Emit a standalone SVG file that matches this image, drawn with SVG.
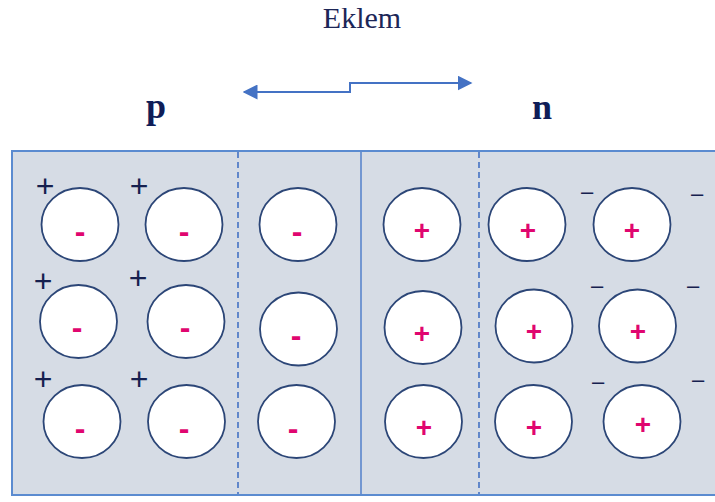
<svg xmlns="http://www.w3.org/2000/svg" width="715" height="502" viewBox="0 0 715 502">
  <style>
    .title { font-family: "Liberation Serif", "Times New Roman", serif; fill: #1c2657; }
    .region { font-family: "Liberation Serif", "Times New Roman", serif; font-weight: bold; fill: #0f1d58; font-size: 36px; text-anchor: middle; }
    .ion { fill: #ffffff; stroke: #2c4677; stroke-width: 1.8; }
    .ionsign { font-family: "Liberation Sans", Arial, sans-serif; font-weight: bold; fill: #e0066f; text-anchor: middle; }
    .carrier { font-family: "Liberation Sans", Arial, sans-serif; fill: #16204f; text-anchor: middle; }
    .divider { stroke: #4472c4; stroke-width: 1.6; stroke-dasharray: 6 4; fill: none; }
    .junction { stroke: #5a86cc; stroke-width: 1.6; fill: none; }
    .arrowline { stroke: #4472c4; stroke-width: 2; fill: none; }
  </style>
  <defs>
    <marker id="arrowhead" viewBox="0 0 10 10" refX="9" refY="5" markerWidth="7.5" markerHeight="7.5" markerUnits="strokeWidth" orient="auto-start-reverse">
      <path d="M0,0 L10,5 L0,10 z" fill="#4472c4"/>
    </marker>
  </defs>

  <rect width="715" height="502" fill="#ffffff"/>

  <!-- heading and region labels -->
  <text class="title" x="362" y="28" font-size="30" text-anchor="middle">Eklem</text>
  <text class="region" x="156" y="118">p</text>
  <text class="region" x="542" y="119">n</text>

  <!-- crystal block -->
  <g id="crystal">
    <rect x="12" y="151" width="712" height="344" fill="#d6dce5" stroke="#5b8bd0" stroke-width="2"/>
  </g>

  <!-- boundaries and junction width arrow -->
  <g id="connectors">
    <line class="divider" x1="238" y1="152" x2="238" y2="494"/>
    <line class="divider" x1="479" y1="152" x2="479" y2="494"/>
    <line class="junction" x1="361" y1="152" x2="361" y2="494"/>
    <path class="arrowline" d="M244,92 L350,92 L350,83 L471,83" marker-start="url(#arrowhead)" marker-end="url(#arrowhead)"/>
  </g>

  <!-- p side: acceptor ions (-) with holes (+) -->
  <g id="p-row1-a"><ellipse class="ion" cx="80" cy="224.5" rx="38.5" ry="36.5"/><text class="ionsign" x="80" y="242" font-size="32">-</text></g>
  <g id="p-row1-b"><ellipse class="ion" cx="184" cy="224.5" rx="38.5" ry="36.5"/><text class="ionsign" x="184" y="242" font-size="32">-</text></g>
  <g id="p-row1-c"><ellipse class="ion" cx="298" cy="224.5" rx="38.5" ry="36.5"/><text class="ionsign" x="297" y="242" font-size="32">-</text></g>
  <g id="p-row2-a"><ellipse class="ion" cx="78.5" cy="321.5" rx="38.5" ry="36.5"/><text class="ionsign" x="77" y="338" font-size="32">-</text></g>
  <g id="p-row2-b"><ellipse class="ion" cx="186" cy="321.5" rx="38.5" ry="36.5"/><text class="ionsign" x="185" y="338" font-size="32">-</text></g>
  <g id="p-row2-c"><ellipse class="ion" cx="298.5" cy="329" rx="38.5" ry="36.5"/><text class="ionsign" x="296" y="346" font-size="32">-</text></g>
  <g id="p-row3-a"><ellipse class="ion" cx="82" cy="421.5" rx="38.5" ry="36.5"/><text class="ionsign" x="80" y="439" font-size="32">-</text></g>
  <g id="p-row3-b"><ellipse class="ion" cx="186.5" cy="421.5" rx="38.5" ry="36.5"/><text class="ionsign" x="184" y="439" font-size="32">-</text></g>
  <g id="p-row3-c"><ellipse class="ion" cx="296.5" cy="421.5" rx="38.5" ry="36.5"/><text class="ionsign" x="293" y="439" font-size="32">-</text></g>

  <g id="p-holes">
    <text class="carrier" x="45" y="197" font-size="32">+</text>
    <text class="carrier" x="139" y="197" font-size="32">+</text>
    <text class="carrier" x="43" y="292" font-size="32">+</text>
    <text class="carrier" x="138" y="289" font-size="32">+</text>
    <text class="carrier" x="43" y="390" font-size="32">+</text>
    <text class="carrier" x="139" y="390" font-size="32">+</text>
  </g>

  <!-- n side: donor ions (+) with electrons (-) -->
  <g id="n-row1-a"><ellipse class="ion" cx="422" cy="224.5" rx="38.5" ry="36.5"/><text class="ionsign" x="422" y="240" font-size="28">+</text></g>
  <g id="n-row1-b"><ellipse class="ion" cx="527" cy="224.5" rx="38.5" ry="36.5"/><text class="ionsign" x="528" y="240" font-size="28">+</text></g>
  <g id="n-row1-c"><ellipse class="ion" cx="632" cy="224.5" rx="38.5" ry="36.5"/><text class="ionsign" x="632" y="240" font-size="28">+</text></g>
  <g id="n-row2-a"><ellipse class="ion" cx="423" cy="327.5" rx="38.5" ry="36.5"/><text class="ionsign" x="422" y="343" font-size="28">+</text></g>
  <g id="n-row2-b"><ellipse class="ion" cx="534" cy="326" rx="38.5" ry="36.5"/><text class="ionsign" x="534" y="341" font-size="28">+</text></g>
  <g id="n-row2-c"><ellipse class="ion" cx="637.5" cy="326" rx="38.5" ry="36.5"/><text class="ionsign" x="638" y="341" font-size="28">+</text></g>
  <g id="n-row3-a"><ellipse class="ion" cx="423.5" cy="421.5" rx="38.5" ry="36.5"/><text class="ionsign" x="424" y="437" font-size="28">+</text></g>
  <g id="n-row3-b"><ellipse class="ion" cx="533.5" cy="421.5" rx="38.5" ry="36.5"/><text class="ionsign" x="534" y="437" font-size="28">+</text></g>
  <g id="n-row3-c"><ellipse class="ion" cx="642" cy="421.5" rx="38.5" ry="36.5"/><text class="ionsign" x="643" y="434" font-size="28">+</text></g>

  <g id="n-electrons">
    <text class="carrier" x="587" y="199" font-size="22">–</text>
    <text class="carrier" x="697" y="201" font-size="22">–</text>
    <text class="carrier" x="597" y="293" font-size="22">–</text>
    <text class="carrier" x="693" y="293" font-size="22">–</text>
    <text class="carrier" x="598" y="389" font-size="22">–</text>
    <text class="carrier" x="698" y="387" font-size="22">–</text>
  </g>
</svg>
